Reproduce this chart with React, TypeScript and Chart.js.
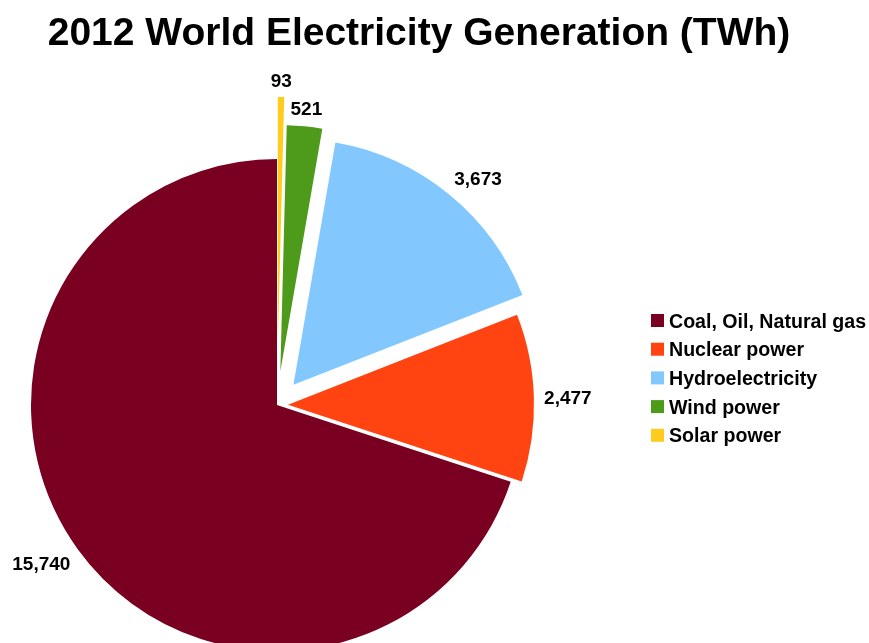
import { useEffect, useRef } from "react";
import { Chart, ArcElement, PieController } from "chart.js";

Chart.register(PieController, ArcElement);

const TITLE = "2012 World Electricity Generation (TWh)";

// Legend order (top to bottom)
const sources = [
  "Coal, Oil, Natural gas",
  "Nuclear power",
  "Hydroelectricity",
  "Wind power",
  "Solar power",
];
const generationTWh = [15740, 2477, 3673, 521, 93];
const sliceColors = ["#7A0022", "#FF4412", "#82C8FF", "#4E9A1B", "#FFCC1E"];
// Distance each slice is pulled away from the centre (px)
const explodePx = [0, 11, 26, 34, 62];
// Small clockwise shift of each value label around its slice (degrees)
const labelNudgeDeg = [2, 0, 2.6, 0, 0];

// The pie runs clockwise from 12 o'clock in reverse legend order
const pieOrder = [4, 3, 2, 1, 0];

const FONT = "Arial, 'Liberation Sans', sans-serif";

const explodePlugin = {
  id: "explodeSlices",
  afterDatasetUpdate(chart: any, args: any) {
    const meta = chart.getDatasetMeta(args.index);
    meta.data.forEach((arc: any, i: number) => {
      const d = explodePx[pieOrder[i]];
      const mid = (arc.startAngle + arc.endAngle) / 2;
      arc.x += Math.cos(mid) * d;
      arc.y += Math.sin(mid) * d;
    });
  },
};

const textPlugin = {
  id: "chartText",
  afterDraw(chart: any) {
    const ctx: CanvasRenderingContext2D = chart.ctx;
    ctx.save();
    ctx.fillStyle = "#000";

    // Title
    ctx.font = `bold 39px ${FONT}`;
    ctx.textAlign = "center";
    ctx.textBaseline = "alphabetic";
    ctx.fillText(TITLE, 419, 45);

    // Value labels just outside each slice
    const labelSize = 19;
    const capH = labelSize * 0.716;
    ctx.font = `bold ${labelSize}px ${FONT}`;
    const meta = chart.getDatasetMeta(0);
    meta.data.forEach((arc: any, i: number) => {
      const value = chart.data.datasets[0].data[i] as number;
      const text = value.toLocaleString("en-US");
      const w = ctx.measureText(text).width;
      const mid =
        (arc.startAngle + arc.endAngle) / 2 +
        (labelNudgeDeg[pieOrder[i]] * Math.PI) / 180;
      const cx = Math.cos(mid);
      const sy = Math.sin(mid);
      const reach = Math.abs(cx) * (w / 2) + Math.abs(sy) * (capH / 2);
      const dist = arc.outerRadius + 10 + reach;
      const x = arc.x + cx * dist;
      const y = arc.y + sy * dist;
      ctx.fillText(text, x, y + capH / 2);
    });

    // Legend
    const legendSize = 19.6;
    const legendCap = legendSize * 0.716;
    ctx.font = `bold ${legendSize}px ${FONT}`;
    ctx.textAlign = "left";
    ctx.textBaseline = "alphabetic";
    sources.forEach((name, i) => {
      const rowY = 320.5 + i * 28.7;
      ctx.fillStyle = sliceColors[i];
      ctx.fillRect(651, rowY - 6.5, 13, 13);
      ctx.fillStyle = "#000";
      ctx.fillText(name, 669, rowY + legendCap / 2);
    });
    ctx.restore();
  },
};

export default function App() {
  const canvasRef = useRef<HTMLCanvasElement | null>(null);

  useEffect(() => {
    if (!canvasRef.current) return;
    const chart = new Chart(canvasRef.current, {
      type: "pie",
      data: {
        labels: pieOrder.map((i) => sources[i]),
        datasets: [
          {
            data: pieOrder.map((i) => generationTWh[i]),
            backgroundColor: pieOrder.map((i) => sliceColors[i]),
            borderWidth: 0,
            radius: 246,
          } as any,
        ],
      },
      options: {
        responsive: false,
        animation: false,
        events: [],
        rotation: 0,
        layout: { padding: { left: 0, right: 315, top: 167, bottom: 0 } },
        plugins: {
          legend: { display: false },
          title: { display: false },
          tooltip: { enabled: false },
        },
      } as any,
      plugins: [explodePlugin, textPlugin],
    });
    return () => chart.destroy();
  }, []);

  return (
    <div
      style={{
        position: "fixed",
        left: 0,
        top: 0,
        width: 869,
        height: 643,
        background: "#fff",
        overflow: "hidden",
      }}
    >
      <canvas ref={canvasRef} width={869} height={643} style={{ display: "block" }} />
    </div>
  );
}
